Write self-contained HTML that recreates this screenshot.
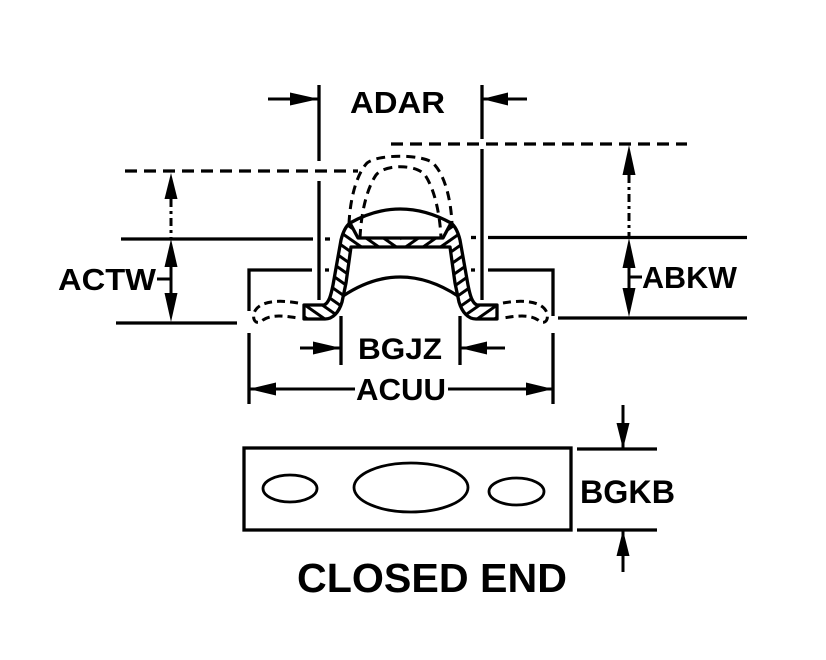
<!DOCTYPE html>
<html>
<head>
<meta charset="utf-8">
<style>
html,body{margin:0;padding:0;background:#fff;}
svg{display:block;}
text{font-family:"Liberation Sans",Arial,sans-serif;font-weight:bold;fill:#000;}
</style>
</head>
<body>
<svg width="826" height="660" viewBox="0 0 826 660" xmlns="http://www.w3.org/2000/svg">
<defs>
  <pattern id="hL" patternUnits="userSpaceOnUse" width="10" height="10" patternTransform="rotate(35)">
    <line x1="0" y1="5" x2="10" y2="5" stroke="#000" stroke-width="3"/>
  </pattern>
  <pattern id="hR" patternUnits="userSpaceOnUse" width="10" height="10" patternTransform="rotate(-35)">
    <line x1="0" y1="5" x2="10" y2="5" stroke="#000" stroke-width="3"/>
  </pattern>
  <clipPath id="cl"><rect x="0" y="0" width="400.5" height="660"/></clipPath>
  <clipPath id="cr"><rect x="400.5" y="0" width="426" height="660"/></clipPath>
</defs>
<rect x="0" y="0" width="826" height="660" fill="#fff"/>

<g stroke="#000" stroke-width="3.3" fill="none">
  <!-- ADAR extension lines -->
  <line x1="319" y1="85" x2="319" y2="161"/>
  <line x1="319" y1="181" x2="319" y2="300"/>
  <line x1="482" y1="85" x2="482" y2="139"/>
  <line x1="482" y1="149" x2="482" y2="300"/>

  <!-- dashed top lines -->
  <line x1="125" y1="171" x2="358" y2="171" stroke-dasharray="12 7"/>
  <line x1="391" y1="144" x2="687" y2="144" stroke-dasharray="12 7"/>

  <!-- solid horizontal lines -->
  <line x1="121" y1="239" x2="313" y2="239"/>
  <line x1="325" y1="239" x2="330" y2="239"/>
  <line x1="488" y1="237.5" x2="747" y2="237.5"/>
  <line x1="471" y1="237.5" x2="476" y2="237.5"/>

  <!-- brackets -->
  <path d="M249,311 L249,270 L312,270"/>
  <line x1="325" y1="270" x2="329" y2="270"/>
  <path d="M553,316 L553,270 L488,270"/>
  <line x1="471" y1="270" x2="475" y2="270"/>

  <!-- bottom lines -->
  <line x1="116" y1="323" x2="237" y2="323"/>
  <line x1="558" y1="318" x2="747" y2="318"/>

  <!-- BGJZ extension lines -->
  <line x1="341" y1="316" x2="341" y2="365"/>
  <line x1="460" y1="316" x2="460" y2="365"/>

  <!-- ACUU extension lines -->
  <line x1="249" y1="333" x2="249" y2="404"/>
  <line x1="553" y1="333" x2="553" y2="404"/>

  <!-- plate -->
  <rect x="244" y="448" width="327" height="82"/>
  <line x1="577" y1="449" x2="657" y2="449"/>
  <line x1="577" y1="530" x2="657" y2="530"/>
</g>

<g stroke="#000" stroke-width="2.8" fill="none">
  <ellipse cx="290" cy="488.5" rx="27" ry="13.5"/>
  <ellipse cx="411" cy="487.5" rx="57" ry="24.5"/>
  <ellipse cx="516.5" cy="491.5" rx="27.5" ry="13.5"/>
</g>

<!-- dashed upper hat -->
<g stroke="#000" stroke-width="3" fill="none" stroke-dasharray="9 6">
  <path d="M349,224 C350,200 356,175 367,163 C378,154 422,154 433,163 C445,175 451,200 452,224"/>
  <path d="M360,238 C361,215 366,190 376,175 C385,164 416,164 425,175 C435,190 440,215 441,238"/>
  <path d="M298,303 C275,299 258,302 254,313 C252,322 258,325 263,320 C272,314 285,316 298,318" stroke-dasharray="8 5"/>
  <path d="M503,303 C526,299 543,302 547,313 C549,322 543,325 538,320 C529,314 516,316 503,318" stroke-dasharray="8 5"/>
</g>

<!-- hatched strip -->
<path d="M304,305 L324,305 C329,303 331,295 333,285 L341,240 C343,232 346,226 350,223 L358,238 L443,238 L451,223 C455,226 458,232 460,240 L468,285 C470,295 472,303 477,305 L497,305 L497,319 L476,319 C468,319 462,312 459,302 L455,283 L450,247 L351,247 L346,283 L342,302 C339,312 333,319 325,319 L304,319 Z" fill="#fff"/>
<path d="M304,305 L324,305 C329,303 331,295 333,285 L341,240 C343,232 346,226 350,223 L358,238 L443,238 L451,223 C455,226 458,232 460,240 L468,285 C470,295 472,303 477,305 L497,305 L497,319 L476,319 C468,319 462,312 459,302 L455,283 L450,247 L351,247 L346,283 L342,302 C339,312 333,319 325,319 L304,319 Z" fill="url(#hL)" clip-path="url(#cl)"/>
<path d="M304,305 L324,305 C329,303 331,295 333,285 L341,240 C343,232 346,226 350,223 L358,238 L443,238 L451,223 C455,226 458,232 460,240 L468,285 C470,295 472,303 477,305 L497,305 L497,319 L476,319 C468,319 462,312 459,302 L455,283 L450,247 L351,247 L346,283 L342,302 C339,312 333,319 325,319 L304,319 Z" fill="url(#hR)" clip-path="url(#cr)"/>
<path d="M304,305 L324,305 C329,303 331,295 333,285 L341,240 C343,232 346,226 350,223 L358,238 L443,238 L451,223 C455,226 458,232 460,240 L468,285 C470,295 472,303 477,305 L497,305 L497,319 L476,319 C468,319 462,312 459,302 L455,283 L450,247 L351,247 L346,283 L342,302 C339,312 333,319 325,319 L304,319 Z" fill="none" stroke="#000" stroke-width="3.3" stroke-linejoin="round"/>

<!-- top arc and lower arc -->
<g stroke="#000" stroke-width="3.3" fill="none">
  <path d="M350,223 Q400,195 451,223"/>
  <path d="M343,296 Q400,258 458,296"/>
</g>

<!-- dimension lines -->
<g stroke="#000" stroke-width="3" fill="none">
  <!-- ADAR -->
  <line x1="268" y1="99" x2="319" y2="99"/>
  <line x1="482" y1="99" x2="527" y2="99"/>
  <!-- ACTW -->
  <line x1="171" y1="199" x2="171" y2="239" stroke-dasharray="8 4 3 4"/>
  <line x1="171" y1="265" x2="171" y2="295"/>
  <line x1="157" y1="279" x2="171" y2="279"/>
  <!-- ABKW -->
  <line x1="629" y1="175" x2="629" y2="237" stroke-dasharray="8 4 3 4"/>
  <line x1="629" y1="266" x2="629" y2="290"/>
  <line x1="629" y1="277" x2="642" y2="277"/>
  <!-- BGJZ -->
  <line x1="300" y1="348" x2="341" y2="348"/>
  <line x1="460" y1="348" x2="505" y2="348"/>
  <!-- ACUU -->
  <line x1="249" y1="389" x2="355" y2="389"/>
  <line x1="448" y1="389" x2="553" y2="389"/>
  <!-- BGKB -->
  <line x1="623" y1="405" x2="623" y2="449"/>
  <line x1="623" y1="530" x2="623" y2="572"/>
</g>

<!-- arrowheads -->
<g fill="#000" stroke="none">
  <polygon points="319,99 290,92.5 290,105.5"/>
  <polygon points="482,99 508,92.5 508,105.5"/>
  <polygon points="171,173 164.5,199 177.5,199"/>
  <polygon points="171,239 164.5,267 177.5,267"/>
  <polygon points="171,322 164.5,293 177.5,293"/>
  <polygon points="629,145 622.5,175 635.5,175"/>
  <polygon points="629,238 622.5,268 635.5,268"/>
  <polygon points="629,317 622.5,288 635.5,288"/>
  <polygon points="341,348 313,341.5 313,354.5"/>
  <polygon points="460,348 487,341.5 487,354.5"/>
  <polygon points="249,389 276,382.5 276,395.5"/>
  <polygon points="553,389 526,382.5 526,395.5"/>
  <polygon points="623,449 616.5,423 629.5,423"/>
  <polygon points="623,530 616.5,556 629.5,556"/>
</g>

<!-- labels -->
<text x="350" y="113" font-size="31" textLength="95" lengthAdjust="spacingAndGlyphs">ADAR</text>
<text x="58" y="290" font-size="31" textLength="98" lengthAdjust="spacingAndGlyphs">ACTW</text>
<text x="642" y="288" font-size="31" textLength="95" lengthAdjust="spacingAndGlyphs">ABKW</text>
<text x="358" y="359" font-size="30" textLength="84" lengthAdjust="spacingAndGlyphs">BGJZ</text>
<text x="356" y="400" font-size="31" textLength="90" lengthAdjust="spacingAndGlyphs">ACUU</text>
<text x="580" y="503" font-size="32" textLength="95" lengthAdjust="spacingAndGlyphs">BGKB</text>
<text x="297" y="592" font-size="41" textLength="270" lengthAdjust="spacingAndGlyphs">CLOSED END</text>
</svg>
</body>
</html>
